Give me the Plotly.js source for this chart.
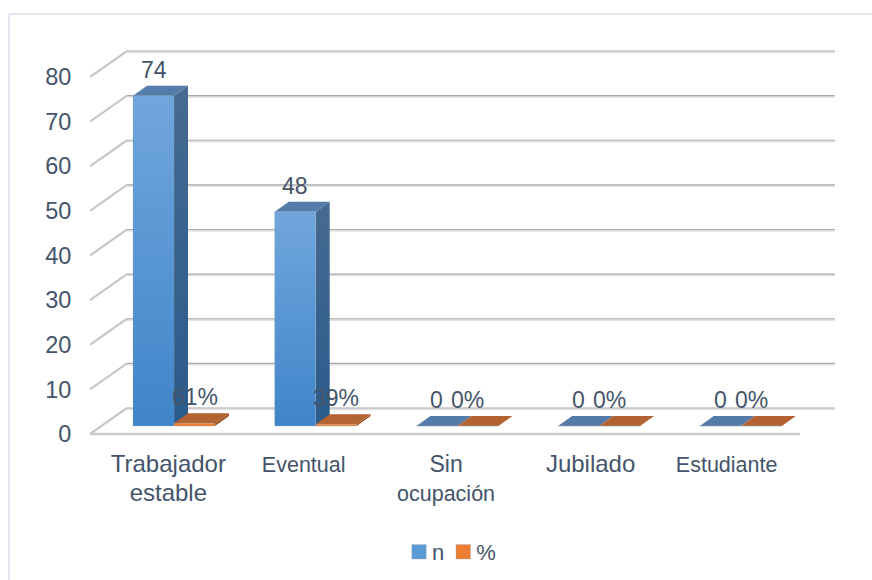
<!DOCTYPE html>
<html>
<head>
<meta charset="utf-8">
<script src="https://cdn.plot.ly/plotly-3.0.1.min.js"></script>
<style>html,body{margin:0;padding:0;background:#fff;overflow:hidden}#chart{width:872px;height:580px}</style>
</head>
<body>
<div id="chart"></div>
<script>
// --- data ---
const categories = ['Trabajador<br>estable', 'Eventual', 'Sin<br>ocupación', 'Jubilado', 'Estudiante'];
const nValues = [74, 48, 0, 0, 0];
const pctValues = [0.61, 0.39, 0, 0, 0];
const gridValues = [0, 10, 20, 30, 40, 50, 60, 70, 80];
const seriesNames = ['n', '%'];

// --- label placement and size, per category and line ---
const labelCenters = [-0.04, -0.085, -0.08, -0.06, -0.1];
const labelSizes = [[24, 24], [21.5], [23, 21.5], [24], [21.5]];

// --- geometry (pixels of the 872x580 page) ---
const W = 872, H = 580;
const plotL = 90, plotR = 840, plotT = 40, plotB = 444;
const unitX = 141.7, unitY = 4.4625;
const group0 = 174;           // px of the first group's centre
const barY0 = 426, wallY0 = 434;
const barW = 41 / unitX;
const barDX = 14 / unitX, barDY = 10 / unitY;
const wallDX = 37 / unitX, wallDY = 26 / unitY;
const xRange = [(plotL - group0) / unitX, (plotR - group0) / unitX];
const xAt = px => (px - group0) / unitX;
const textColor = '#44546a';
const font = 'Liberation Sans, Arial, sans-serif';

const xs = categories.map((_, i) => i);
const shapes = [];
const seg = (x0, y0, x1, y1, color, width, yref) => shapes.push({
  type: 'line', layer: 'below', xref: 'x', yref, x0, y0, x1, y1, line: {color, width}
});
const poly = (pts, color) => shapes.push({
  type: 'path', layer: 'below', xref: 'x', yref: 'y', line: {width: 0}, fillcolor: color,
  path: 'M' + pts.map(p => p[0] + ',' + p[1]).join('L') + 'Z'
});

// walls and floor, on the axis that carries the tick labels
const wallLeft = xAt(90), wallBack = wallLeft + wallDX, wallRight = xAt(835);
const bandOffset = 1.2 / unitY;
gridValues.forEach(v => {
  seg(wallBack, v + wallDY - bandOffset, wallRight, v + wallDY - bandOffset, '#e1e3ea', 2, 'y2');
  seg(wallBack, v + wallDY, wallRight, v + wallDY, '#a9a9a9', 1.2, 'y2');
  seg(wallLeft, v, wallBack, v + wallDY, '#d2d2d2', 2.4, 'y2');
  seg(wallLeft, v, wallBack, v + wallDY, '#a8a8a8', 0.5, 'y2');
});
seg(wallLeft, 0, xAt(800), 0, '#c8cad0', 2.5, 'y2');

// depth faces of the bars, computed from the values
const faces = (x0, v, sideColor, topColor) => {
  const x1 = x0 + barW;
  if (v > 0) poly([[x1, 0], [x1 + barDX, barDY], [x1 + barDX, v + barDY], [x1, v]], sideColor);
  poly([[x0, v], [x0 + barDX, v + barDY], [x1 + barDX, v + barDY], [x1, v]], topColor);
};
xs.forEach(i => {
  faces(i - barW, nValues[i], '#34608c', '#557ca8');
  faces(i, pctValues[i], '#9c5428', '#b36332');
});

// outer frame of the chart
[[9, 14, W, 14], [9, 14, 9, H]].forEach(f => shapes.push({
  type: 'line', layer: 'below', xref: 'paper', yref: 'paper',
  x0: f[0] / W, x1: f[2] / W, y0: 1 - f[1] / H, y1: 1 - f[3] / H,
  line: {color: '#e4e7f0', width: 2}
}));

const annotations = [];
const addLabel = (x, v, text, dx) => annotations.push({
  x, y: v, xref: 'x', yref: 'y', text, showarrow: false, xanchor: 'center', yanchor: 'bottom',
  xshift: dx, yshift: 11, font: {family: font, size: 23, color: textColor}
});
xs.forEach(i => {
  addLabel(i - barW / 2, nValues[i], String(nValues[i]), 0);
  addLabel(i + barW / 2, pctValues[i], Math.round(pctValues[i] * 100) + '%', pctValues[i] === 0 ? -10 : 0);
});

const barTrace = (name, vals, off, color) => ({
  type: 'bar', name, x: xs, y: vals, width: barW, offset: off,
  marker: {color, line: {color: 'rgba(150,160,170,0.6)', width: 0.5}},
  hoverinfo: 'skip', cliponaxis: false
});

const tickLabel = (c, i) => c.split('<br>').map((line, k) =>
  '<span style="font-size:' + labelSizes[i][k] + 'px">' + line + '</span>').join('<br>');

const layout = {
  width: W, height: H, autosize: false,
  paper_bgcolor: '#fff', plot_bgcolor: 'rgba(0,0,0,0)',
  margin: {l: 0, r: 0, t: 0, b: 0, pad: 0},
  barmode: 'overlay',
  showlegend: true,
  legend: {orientation: 'h', x: 392 / W, y: 1 - 531 / H, xanchor: 'left', yanchor: 'top',
    font: {family: font, size: 22, color: textColor}, itemwidth: 30, bgcolor: 'rgba(0,0,0,0)'},
  xaxis: {
    type: 'linear', range: xRange, domain: [plotL / W, plotR / W], anchor: 'y',
    showgrid: false, zeroline: false, showline: false, fixedrange: true,
    tickmode: 'array',
    tickvals: xs.map(i => i + labelCenters[i]),
    ticktext: categories.map(tickLabel),
    ticks: 'outside', ticklen: 1, tickcolor: 'rgba(0,0,0,0)',
    tickfont: {family: font, size: 22, color: textColor}
  },
  yaxis: {
    range: [barY0 - plotB, barY0 - plotT].map(p => p / unitY),
    domain: [1 - plotB / H, 1 - plotT / H], anchor: 'x',
    showgrid: false, zeroline: false, showline: false, showticklabels: false, ticks: '', fixedrange: true
  },
  yaxis2: {
    overlaying: 'y', side: 'left', anchor: 'x',
    range: [wallY0 - plotB, wallY0 - plotT].map(p => p / unitY),
    tickmode: 'array', tickvals: gridValues, ticktext: gridValues.map(String),
    showgrid: false, zeroline: false, showline: false, fixedrange: true,
    ticks: 'outside', ticklen: 13, tickcolor: 'rgba(0,0,0,0)',
    tickfont: {family: font, size: 23.5, color: textColor}
  },
  shapes, annotations
};

const traces = [
  barTrace(seriesNames[0], nValues, -barW, '#5b9bd5'),
  barTrace(seriesNames[1], pctValues, 0, '#ed7d31'),
  {type: 'scatter', mode: 'lines', x: [xs[0]], y: [gridValues[0]], yaxis: 'y2', showlegend: false, hoverinfo: 'skip', line: {width: 0}}
];

Plotly.newPlot('chart', traces, layout, {displayModeBar: false, staticPlot: true}).then(gd => {
  const svg = gd.querySelector('.main-svg');
  const ns = 'http://www.w3.org/2000/svg';
  const defs = svg.querySelector('defs') || svg.insertBefore(document.createElementNS(ns, 'defs'), svg.firstChild);
  const grad = (id, top, bottom) => {
    const g = document.createElementNS(ns, 'linearGradient');
    g.id = id; g.setAttribute('x1', 0); g.setAttribute('x2', 0); g.setAttribute('y1', 0); g.setAttribute('y2', 1);
    [[0, top], [1, bottom]].forEach(s => {
      const st = document.createElementNS(ns, 'stop');
      st.setAttribute('offset', s[0]); st.setAttribute('stop-color', s[1]);
      g.appendChild(st);
    });
    defs.appendChild(g);
  };
  grad('gradN', '#71a6dd', '#3f85c9');
  grad('gradNSide', '#466a92', '#2a5b8b');
  gd.querySelectorAll('.barlayer .trace').forEach((t, k) => {
    if (k === 0) t.querySelectorAll('path').forEach(p => { p.style.fill = 'url(#gradN)'; });
  });
  gd.querySelectorAll('.shapelayer path').forEach(p => {
    if (p.style.fill.replace(/\s/g, '') === 'rgb(52,96,140)') p.style.fill = 'url(#gradNSide)';
  });
  // tighten the legend: bigger swatches, closer to their text and to each other
  gd.querySelectorAll('.legend .traces').forEach((t, k) => {
    t.querySelectorAll('.legendpoints path').forEach(p => {
      p.setAttribute('transform', (p.getAttribute('transform') || '') + ' translate(7,0) scale(1.2)');
    });
    if (k === 1) {
      const m = /translate\(\s*([-\d.]+)[ ,]+([-\d.]+)\s*\)/.exec(t.getAttribute('transform') || '');
      if (m) t.setAttribute('transform', 'translate(' + (parseFloat(m[1]) - 13) + ',' + m[2] + ')');
    }
  });
});
</script>
</body>
</html>
